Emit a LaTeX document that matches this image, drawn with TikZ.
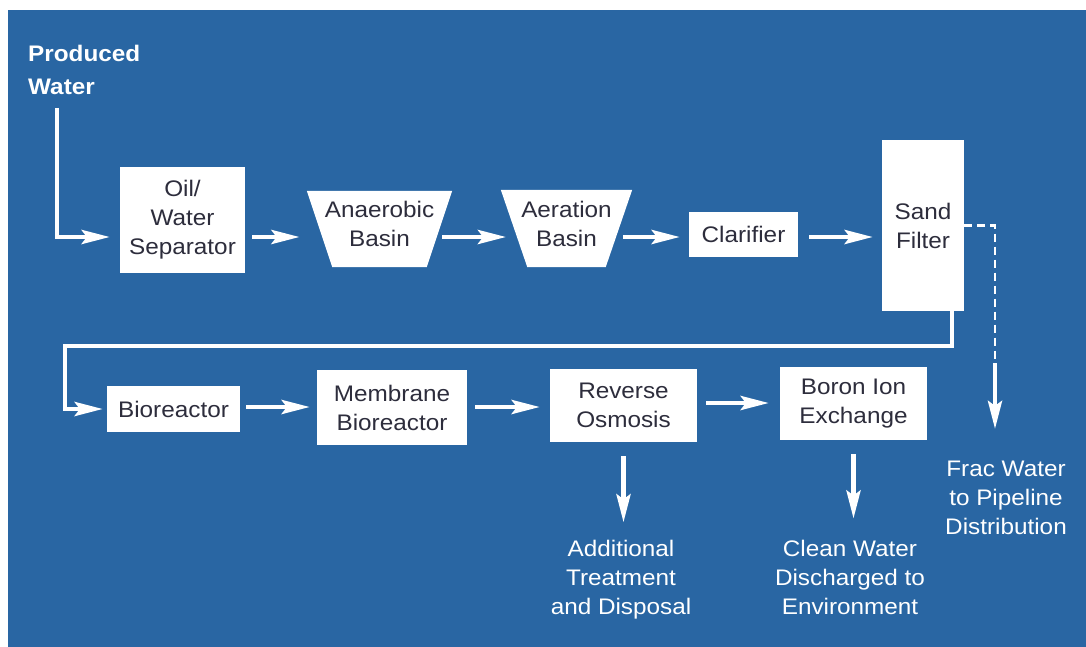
\documentclass[tikz,border=0pt]{standalone}
\usepackage{fontspec}
\setmainfont[FakeStretch=1.08]{Liberation Sans}
\usetikzlibrary{arrows.meta,backgrounds}
\definecolor{bgblue}{RGB}{41,102,163}
\definecolor{boxtext}{RGB}{45,45,60}
\begin{document}
\begin{tikzpicture}[x=1pt,y=-1pt,
  txt/.style={font=\fontsize{22.5}{29}\selectfont},
  box/.style={txt, fill=white, inner sep=0pt, text=boxtext, align=center},
  bnode/.style={inner sep=0pt},
  btext/.style={txt, inner sep=0pt, text=boxtext, align=center},
  wlabel/.style={txt, text=white, align=center, inner sep=0pt},
  arr/.style={white, line width=4.5pt, -{Stealth[length=28pt,width=14pt,inset=5pt]}},
  flow/.style={white, line width=4.5pt},
  dashln/.style={white, line width=2.5pt, dash pattern=on 8pt off 5pt}]
\useasboundingbox (0,0) rectangle (1086,647);

% top row
\node[box, minimum width=125pt, minimum height=106pt] (osep) at (182.5,220) {Oil/\\Water\\Separator};
\node[bnode, minimum width=119.5pt, minimum height=76pt] (anaer) at (379.5,229) {};
\node[btext] (anaerT) at ([yshift=5.5pt]anaer.center) {Anaerobic\\Basin};
\node[bnode, minimum width=104.5pt, minimum height=77pt] (aer) at (566.5,228.5) {};
\node[btext] (aerT) at ([yshift=4.5pt]aer.center) {Aeration\\Basin};
\node[box, minimum width=109pt, minimum height=45pt] (clar) at (743.5,234.5) {Clarifier};
\node[box, minimum width=82pt, minimum height=171pt] (sand) at (923,225.5) {Sand\\Filter};

% bottom row
\node[box, minimum width=133pt, minimum height=46pt] (bio) at (173.5,409) {Bioreactor};
\node[box, minimum width=150pt, minimum height=75pt] (mbr) at (392,407.5) {Membrane\\Bioreactor};
\node[box, minimum width=147pt, minimum height=73pt] (ro) at (623.5,405.5) {Reverse\\Osmosis};
\node[box, minimum width=147pt, minimum height=73pt] (boron) at (853.5,403.5) {Boron Ion\\Exchange};

% labels
\node[wlabel, font=\bfseries\fontsize{22.5}{33}\selectfont, align=left, anchor=north west] (pw) at (28,45) {Produced\\Water};
\node[wlabel] (add) at (621,580) {Additional\\Treatment\\and Disposal};
\node[wlabel] (clean) at (850,577) {Clean Water\\Discharged to\\Environment};
\node[wlabel] (frac) at (1006,498) {Frac Water\\to Pipeline\\Distribution};

% helper coordinates
\coordinate (pwstart) at (57,108);
\coordinate (r1) at (0,237);
\coordinate (r2) at (0,407);
\coordinate (r3) at (0,403);
\coordinate (ret1) at (952,346);
\coordinate (ret2) at (65,346);
\coordinate (dsplit) at (995,363);

% connectors top row
\draw[arr, shorten >=10pt] (pwstart) |- (osep.west |- r1);
\draw[arr, shorten <=7pt, shorten >=20pt] (osep.east |- r1) -- (anaer.west |- r1);
\draw[arr, shorten <=3pt, shorten >=8pt] (anaer.east |- r1) -- (aer.west |- r1);
\draw[arr, shorten <=4pt, shorten >=9pt] (aer.east |- r1) -- (clar.west |- r1);
\draw[arr, shorten <=11pt, shorten >=9pt] (clar.east |- r1) -- (sand.west |- r1);

% return line
\draw[arr, shorten >=4pt] (ret1 |- sand.south) -- (ret1) -- (ret2) |- (bio.west);

% bottom row
\draw[arr, shorten <=6pt, shorten >=7pt] (bio.east |- r2) -- (mbr.west |- r2);
\draw[arr, shorten <=8pt, shorten >=10pt] (mbr.east |- r2) -- (ro.west |- r2);
\draw[arr, shorten <=9pt, shorten >=11pt] (ro.east |- r3) -- (boron.west |- r3);
\draw[arr, shorten <=14pt, shorten >=18pt] (ro.south) -- (ro.south |- add.north);
\draw[arr, shorten <=14pt, shorten >=21pt] (boron.south) -- (boron.south |- clean.north);

% dashed branch
\draw[dashln] (sand.east) -| (dsplit);
\draw[arr, shorten >=32pt] (dsplit) -- (dsplit |- frac.north);

\begin{scope}[on background layer]
  \fill[white] (0,0) rectangle (1086,647);
  \fill[bgblue] (8,10) rectangle (1086,647);
  \fill[white] ([xshift=-12.75pt]anaer.north west) -- ([xshift=12.75pt]anaer.north east)
     -- ([xshift=-12.75pt]anaer.south east) -- ([xshift=12.75pt]anaer.south west) -- cycle;
  \fill[white] ([xshift=-13.25pt]aer.north west) -- ([xshift=13.25pt]aer.north east)
     -- ([xshift=-13.25pt]aer.south east) -- ([xshift=13.25pt]aer.south west) -- cycle;
\end{scope}
\end{tikzpicture}
\end{document}
